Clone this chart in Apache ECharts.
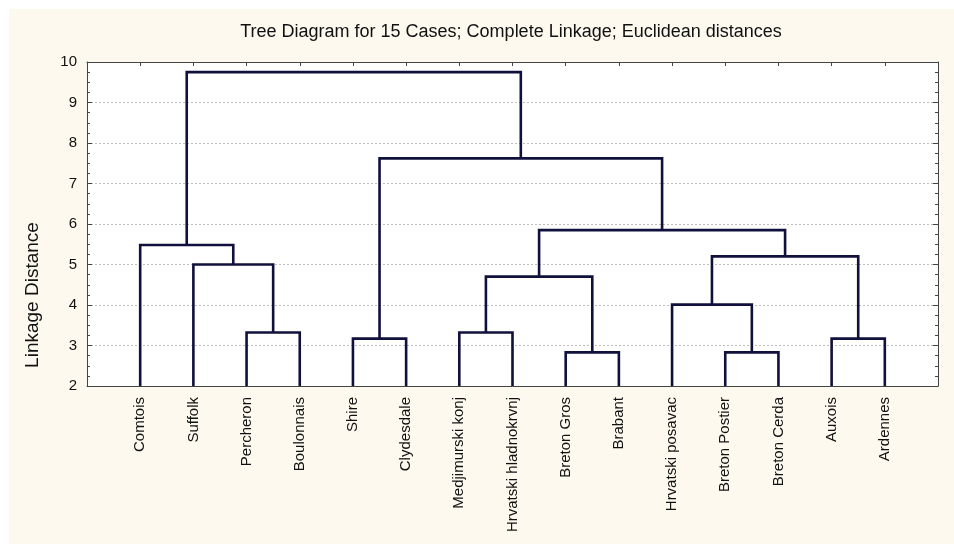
<!DOCTYPE html>
<html>
<head>
<meta charset="utf-8">
<title>Tree Diagram</title>
<script src="https://cdn.jsdelivr.net/npm/echarts@6/dist/echarts.min.js"></script>
<style>
html,body{margin:0;padding:0;background:#fff;}
#paper{position:absolute;left:9px;top:9px;width:945px;height:535px;background:#fdf9ee;}
#chart{position:absolute;left:0;top:0;width:954px;height:544px;}
</style>
</head>
<body>
<div id="paper"></div>
<div id="chart"></div>
<script>
'use strict';

var TITLE='Tree Diagram for 15 Cases; Complete Linkage; Euclidean distances';
var Y_NAME='Linkage Distance';
var Y_MIN=2, Y_MAX=10;

// leaf order along the x axis
var leaves=['Comtois','Suffolk','Percheron','Boulonnais','Shire','Clydesdale',
    'Medjimurski konj','Hrvatski hladnokrvnj','Breton Gros','Brabant',
    'Hrvatski posavac','Breton Postier','Breton Cerda','Auxois','Ardennes'];

// joins: [left node, right node, linkage distance]
// node id < 15 is a leaf, otherwise 15 + index of the join
var joins=[
    [8,9,2.83],     // 15
    [11,12,2.83],   // 16
    [4,5,3.17],     // 17
    [13,14,3.17],   // 18
    [2,3,3.32],     // 19
    [6,7,3.32],     // 20
    [10,16,4.01],   // 21
    [20,15,4.70],   // 22
    [1,19,5.00],    // 23
    [21,18,5.20],   // 24
    [0,23,5.48],    // 25
    [22,24,5.85],   // 26
    [17,26,7.62],   // 27
    [25,27,9.75]    // 28
];

/**
 * 按合并顺序求每个节点的横坐标（子节点中点）和高度
 */
function buildLinks(){
    var nodeX=leaves.map(function(_,i){return i+1;});
    var nodeH=leaves.map(function(){return Y_MIN;});
    return joins.map(function(j){
        var x1=nodeX[j[0]], x2=nodeX[j[1]];
        var row=[x1,nodeH[j[0]],x2,nodeH[j[1]],j[2]];
        nodeX.push((x1+x2)/2);
        nodeH.push(j[2]);
        return row;
    });
}

function renderLink(params,api){
    var xl=api.value(0), hl=api.value(1), xr=api.value(2), hr=api.value(3), h=api.value(4);
    return {
        type:'polyline',
        shape:{points:[api.coord([xl,hl]),api.coord([xl,h]),api.coord([xr,h]),api.coord([xr,hr])]},
        style:{stroke:'#10103c',lineWidth:2.6,fill:null}
    };
}

var FONT='"Liberation Sans", Arial, sans-serif';
var FRAME={show:true,onZero:false,lineStyle:{color:'#444',width:1}};

var chart=echarts.init(document.getElementById('chart'),null,{renderer:'canvas'});
chart.setOption({
    backgroundColor:'transparent',
    animation:false,
    textStyle:{fontFamily:FONT},
    grid:{left:87,right:16,top:62,bottom:158,show:true,backgroundColor:'#fff',borderWidth:0},
    graphic:[
        {type:'text',x:511,y:32,
            style:{text:TITLE,font:'18px '+FONT,fill:'#111',align:'center',verticalAlign:'middle'}},
        {type:'text',x:33,y:295,rotation:Math.PI/2,
            style:{text:Y_NAME,font:'19px '+FONT,fill:'#111',align:'center',verticalAlign:'middle'}}
    ],
    xAxis:[{
        type:'value',min:0,max:leaves.length+1,interval:1,position:'bottom',
        axisLine:FRAME,axisTick:{show:false},splitLine:{show:false},
        axisLabel:{rotate:90,margin:11,fontSize:15,color:'#111',fontFamily:FONT,
            showMinLabel:true,showMaxLabel:true,
            formatter:function(v){return leaves[v-1]||'';}}
    },{
        type:'value',min:0,max:leaves.length+1,interval:1,position:'top',
        axisLine:FRAME,axisTick:{show:true,inside:true,length:4,lineStyle:{color:'#444'}},
        axisLabel:{show:false},splitLine:{show:false}
    }],
    yAxis:[{
        type:'value',min:Y_MIN,max:Y_MAX,interval:1,position:'left',
        axisLine:FRAME,
        axisTick:{show:true,inside:true,length:5,lineStyle:{color:'#444'}},
        minorTick:{show:true,splitNumber:4,length:3,lineStyle:{color:'#444'}},
        axisLabel:{fontSize:15,margin:10,color:'#111',fontFamily:FONT},
        splitLine:{show:true,lineStyle:{color:'#bdbdbd',width:1,type:[2,2]}}
    },{
        type:'value',min:Y_MIN,max:Y_MAX,interval:1,position:'right',
        axisLine:FRAME,
        axisTick:{show:true,inside:true,length:5,lineStyle:{color:'#444'}},
        minorTick:{show:true,splitNumber:4,length:3,lineStyle:{color:'#444'}},
        axisLabel:{show:false},splitLine:{show:false}
    }],
    series:[{
        type:'custom',
        xAxisIndex:0,yAxisIndex:0,
        renderItem:renderLink,
        encode:{x:[0,2],y:[1,3,4]},
        data:buildLinks(),
        z:5
    }]
});
</script>
</body>
</html>
